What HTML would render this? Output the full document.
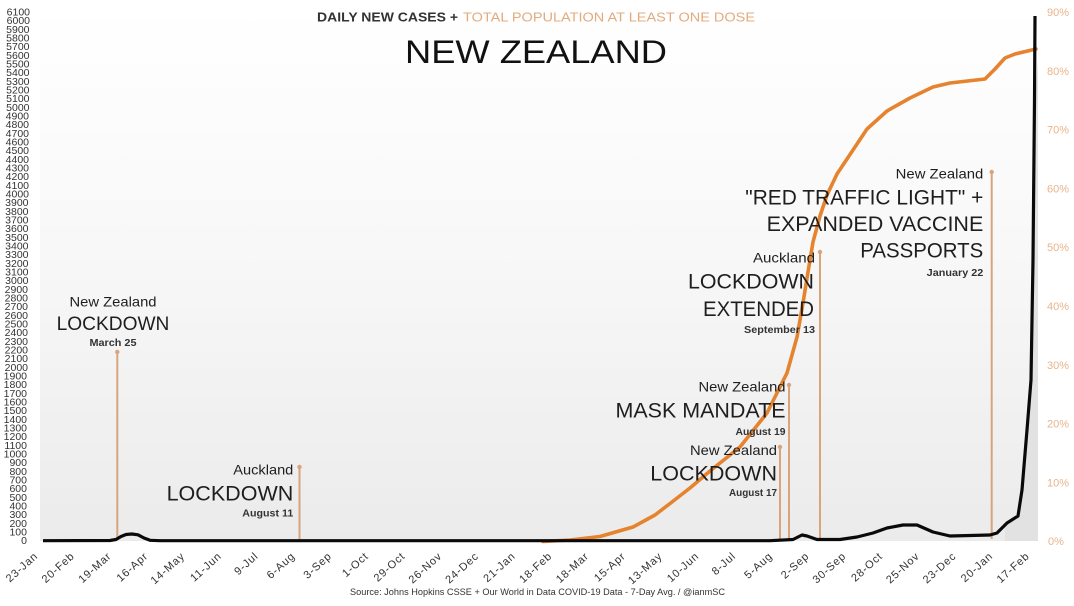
<!DOCTYPE html>
<html><head><meta charset="utf-8"><style>
html,body{margin:0;padding:0;background:#fff;}
svg{display:block;font-family:"Liberation Sans",sans-serif;}
</style></head><body>
<svg width="1074" height="606" viewBox="0 0 1074 606" xmlns="http://www.w3.org/2000/svg">
<defs>
<linearGradient id="bg" x1="0" y1="0" x2="0" y2="1">
<stop offset="0" stop-color="#ffffff"/>
<stop offset="0.45" stop-color="#f8f8f8"/>
<stop offset="1" stop-color="#ebebeb"/>
</linearGradient>
</defs>
<rect width="1074" height="606" fill="#fff"/>
<rect x="40" y="8" width="998" height="533" fill="url(#bg)"/>
<polygon points="1005,541 1005,527 1012,521 1018,514 1022,488 1027,428 1031,370 1033,250 1035,100 1038,60 1038,541" fill="#e2e2e2"/>

<!-- title -->
<text x="317" y="21.5" font-size="13" font-weight="bold" fill="#333" textLength="141" lengthAdjust="spacingAndGlyphs">DAILY NEW CASES +</text>
<text x="463" y="21.5" font-size="13" fill="#e3ab7c" textLength="292" lengthAdjust="spacingAndGlyphs">TOTAL POPULATION AT LEAST ONE DOSE</text>
<text x="405" y="63" font-size="32" fill="#111" textLength="262" lengthAdjust="spacingAndGlyphs">NEW ZEALAND</text>

<!-- left axis -->
<g font-size="10.5" fill="#333" text-anchor="end">
<text x="27" y="544.2">0</text><text x="27" y="535.5">100</text><text x="27" y="526.9">200</text><text x="27" y="518.2">300</text><text x="27" y="509.5">400</text><text x="27" y="500.9">500</text><text x="27" y="492.2">600</text><text x="27" y="483.5">700</text><text x="27" y="474.9">800</text><text x="27" y="466.2">900</text>
<text x="27" y="457.5">1000</text><text x="27" y="448.9">1100</text><text x="27" y="440.2">1200</text><text x="27" y="431.5">1300</text><text x="27" y="422.9">1400</text><text x="27" y="414.2">1500</text><text x="27" y="405.5">1600</text><text x="27" y="396.9">1700</text><text x="27" y="388.2">1800</text><text x="27" y="379.5">1900</text>
<text x="28" y="370.9">2000</text><text x="28" y="362.2">2100</text><text x="28" y="353.5">2200</text><text x="28" y="344.9">2300</text><text x="28" y="336.2">2400</text><text x="28" y="327.5">2500</text><text x="28" y="318.9">2600</text><text x="28" y="310.2">2700</text><text x="28" y="301.5">2800</text><text x="28" y="292.9">2900</text>
<text x="28.5" y="284.2">3000</text><text x="28.5" y="275.5">3100</text><text x="28.5" y="266.9">3200</text><text x="28.5" y="258.2">3300</text><text x="28.5" y="249.5">3400</text><text x="28.5" y="240.9">3500</text><text x="28.5" y="232.2">3600</text><text x="28.5" y="223.5">3700</text><text x="28.5" y="214.9">3800</text><text x="28.5" y="206.2">3900</text>
<text x="29" y="197.5">4000</text><text x="29" y="188.9">4100</text><text x="29" y="180.2">4200</text><text x="29" y="171.5">4300</text><text x="29" y="162.9">4400</text><text x="29" y="154.2">4500</text><text x="29" y="145.5">4600</text><text x="29" y="136.9">4700</text><text x="29" y="128.2">4800</text><text x="29" y="119.5">4900</text>
<text x="29.5" y="110.9">5000</text><text x="29.5" y="102.2">5100</text><text x="29.5" y="93.5">5200</text><text x="29.5" y="84.9">5300</text><text x="29.5" y="76.2">5400</text><text x="29.5" y="67.5">5500</text><text x="29.5" y="58.9">5600</text><text x="29.5" y="50.2">5700</text><text x="29.5" y="41.5">5800</text><text x="29.5" y="32.9">5900</text>
<text x="30" y="24.2">6000</text><text x="30" y="15.5">6100</text>
</g>

<!-- right axis -->
<g font-size="11" fill="#e8b48c">
<text x="1047" y="16">90%</text><text x="1047" y="74.8">80%</text><text x="1047" y="133.6">70%</text><text x="1047" y="192.4">60%</text><text x="1047" y="251.2">50%</text><text x="1047" y="310">40%</text><text x="1047" y="368.8">30%</text><text x="1047" y="427.6">20%</text><text x="1047" y="486.4">10%</text><text x="1048" y="545.2">0%</text>
</g>

<!-- x axis labels -->
<g font-size="11" fill="#333" text-anchor="end" letter-spacing="0.8">
<text transform="translate(38.5,557) rotate(-42)">23-Jan</text>
<text transform="translate(75.2,557) rotate(-42)">20-Feb</text>
<text transform="translate(112,557) rotate(-42)">19-Mar</text>
<text transform="translate(148.7,557) rotate(-42)">16-Apr</text>
<text transform="translate(185.4,557) rotate(-42)">14-May</text>
<text transform="translate(222.2,557) rotate(-42)">11-Jun</text>
<text transform="translate(258.9,557) rotate(-42)">9-Jul</text>
<text transform="translate(295.6,557) rotate(-42)">6-Aug</text>
<text transform="translate(332.3,557) rotate(-42)">3-Sep</text>
<text transform="translate(369.1,557) rotate(-42)">1-Oct</text>
<text transform="translate(405.8,557) rotate(-42)">29-Oct</text>
<text transform="translate(442.5,557) rotate(-42)">26-Nov</text>
<text transform="translate(479.3,557) rotate(-42)">24-Dec</text>
<text transform="translate(516,557) rotate(-42)">21-Jan</text>
<text transform="translate(552.7,557) rotate(-42)">18-Feb</text>
<text transform="translate(589.5,557) rotate(-42)">18-Mar</text>
<text transform="translate(626.2,557) rotate(-42)">15-Apr</text>
<text transform="translate(662.9,557) rotate(-42)">13-May</text>
<text transform="translate(699.6,557) rotate(-42)">10-Jun</text>
<text transform="translate(736.4,557) rotate(-42)">8-Jul</text>
<text transform="translate(773.1,557) rotate(-42)">5-Aug</text>
<text transform="translate(809.8,557) rotate(-42)">2-Sep</text>
<text transform="translate(846.6,557) rotate(-42)">30-Sep</text>
<text transform="translate(883.3,557) rotate(-42)">28-Oct</text>
<text transform="translate(920,557) rotate(-42)">25-Nov</text>
<text transform="translate(956.8,557) rotate(-42)">23-Dec</text>
<text transform="translate(993.5,557) rotate(-42)">20-Jan</text>
<text transform="translate(1030.2,557) rotate(-42)">17-Feb</text>
</g>

<!-- source -->
<text x="350" y="595" font-size="9" fill="#333" textLength="375" lengthAdjust="spacingAndGlyphs">Source: Johns Hopkins CSSE + Our World in Data COVID-19 Data - 7-Day Avg. / @ianmSC</text>

<!-- annotation lines -->
<g stroke="#d8a47c" stroke-width="2" fill="#d8a47c">
<line x1="117.3" y1="352" x2="117.3" y2="539"/><circle cx="117.3" cy="352" r="2.2" stroke="none"/>
<line x1="299.5" y1="467" x2="299.5" y2="539"/><circle cx="299.5" cy="467" r="2.2" stroke="none"/>
<line x1="780" y1="447" x2="780" y2="539"/><circle cx="780" cy="447" r="2.2" stroke="none"/>
<line x1="789" y1="385" x2="789" y2="539"/><circle cx="789" cy="385" r="2.2" stroke="none"/>
<line x1="820" y1="252" x2="820" y2="539"/><circle cx="820" cy="252" r="2.2" stroke="none"/>
<line x1="991.7" y1="172" x2="991.7" y2="539"/><circle cx="991.7" cy="172" r="2.2" stroke="none"/>
</g>

<!-- orange vaccination curve -->
<polyline fill="none" stroke="#e5832f" stroke-width="3.6" stroke-linejoin="round" stroke-linecap="round"
points="543,541.5 570,540 600,536.5 633,527 655,515 672,502 690,488 710,471 740,447 767,413 787,373 797,337 803,303 808,272 813,242 820,216 827,195 837,174 847,159 867,129 887,111 910,98 933,87 950,83 985,79 995,69 1005,58 1015,54 1036,49"/>

<!-- annotation texts -->
<g fill="#1e1e1e">
<text x="113" y="306.7" font-size="14" text-anchor="middle" textLength="87" lengthAdjust="spacingAndGlyphs">New Zealand</text>
<text x="113" y="330.1" font-size="19" text-anchor="middle" textLength="112.7" lengthAdjust="spacingAndGlyphs">LOCKDOWN</text>
<text x="113" y="346.1" font-size="10.5" font-weight="bold" fill="#333" text-anchor="middle" textLength="47" lengthAdjust="spacingAndGlyphs">March 25</text>

<text x="293.3" y="474.5" font-size="14" text-anchor="end" textLength="60" lengthAdjust="spacingAndGlyphs">Auckland</text>
<text x="293.3" y="500.4" font-size="21.5" text-anchor="end" textLength="126.7" lengthAdjust="spacingAndGlyphs">LOCKDOWN</text>
<text x="293.3" y="516.5" font-size="10.5" font-weight="bold" fill="#333" text-anchor="end" textLength="51" lengthAdjust="spacingAndGlyphs">August 11</text>

<text x="777" y="455" font-size="14" text-anchor="end" textLength="87" lengthAdjust="spacingAndGlyphs">New Zealand</text>
<text x="777" y="480.4" font-size="21.5" text-anchor="end" textLength="126.7" lengthAdjust="spacingAndGlyphs">LOCKDOWN</text>
<text x="777" y="496" font-size="10.5" font-weight="bold" fill="#333" text-anchor="end" textLength="48" lengthAdjust="spacingAndGlyphs">August 17</text>

<text x="785.5" y="391.7" font-size="14" text-anchor="end" textLength="87" lengthAdjust="spacingAndGlyphs">New Zealand</text>
<text x="785.5" y="417.6" font-size="21" text-anchor="end" textLength="170" lengthAdjust="spacingAndGlyphs">MASK MANDATE</text>
<text x="785.5" y="434.8" font-size="10.5" font-weight="bold" fill="#333" text-anchor="end" textLength="50" lengthAdjust="spacingAndGlyphs">August 19</text>

<text x="815" y="262.3" font-size="14" text-anchor="end" textLength="62" lengthAdjust="spacingAndGlyphs">Auckland</text>
<text x="814" y="288.4" font-size="21.5" text-anchor="end" textLength="126" lengthAdjust="spacingAndGlyphs">LOCKDOWN</text>
<text x="814" y="316" font-size="21.5" text-anchor="end" textLength="111" lengthAdjust="spacingAndGlyphs">EXTENDED</text>
<text x="815" y="333.1" font-size="10.5" font-weight="bold" fill="#333" text-anchor="end" textLength="71" lengthAdjust="spacingAndGlyphs">September 13</text>

<text x="983.3" y="178.3" font-size="14" text-anchor="end" textLength="87.6" lengthAdjust="spacingAndGlyphs">New Zealand</text>
<text x="983.3" y="204.4" font-size="21.5" text-anchor="end" textLength="238" lengthAdjust="spacingAndGlyphs">"RED TRAFFIC LIGHT" +</text>
<text x="983.3" y="231" font-size="21.5" text-anchor="end" textLength="216.7" lengthAdjust="spacingAndGlyphs">EXPANDED VACCINE</text>
<text x="983.3" y="257.7" font-size="21.5" text-anchor="end" textLength="123" lengthAdjust="spacingAndGlyphs">PASSPORTS</text>
<text x="983.3" y="276.1" font-size="10.5" font-weight="bold" fill="#333" text-anchor="end" textLength="56.6" lengthAdjust="spacingAndGlyphs">January 22</text>
</g>

<!-- black daily cases line -->
<polyline fill="none" stroke="#0a0a0a" stroke-width="3.2" stroke-linejoin="round"
points="43,540.7 110,540.5 116,539.5 121,536.5 126,534.5 132,534 138,534.8 144,538 150,540.3 160,540.7 400,540.7 770,540.7 793,539.5 802,535 807,536 817,539.5 840,539.5 857,537 873,533 887,528 903,525 917,525 933,532 950,536 990,535 997,533 1007,523 1018,516 1022,490 1027,430 1031,380 1033,260 1034.5,100 1035,16"/>
</svg>
</body></html>
